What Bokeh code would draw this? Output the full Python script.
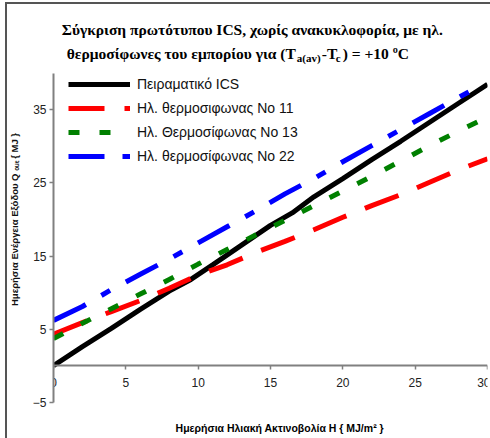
from bokeh.plotting import figure
from bokeh.models import Range1d, FixedTicker, Label, Legend, LegendItem
from bokeh.embed import file_html
from bokeh.resources import INLINE

# ---- data ----
h_ics = [0, 2, 4, 6, 8, 9.5, 11, 13, 15, 16.5, 18, 20, 22, 24, 26, 28, 30]
q_ics = [0, 2.6, 5.1, 7.7, 10.2, 11.8, 13.8, 16.5, 19.2, 20.9, 23.1, 25.6, 28.2, 30.7, 33.3, 35.9, 38.5]

h_11 = [0, 2, 4, 6, 8, 10, 12, 14, 16, 18, 20, 22, 24, 26, 28, 30]
q_11 = [4.3, 5.9, 7.4, 8.9, 10.6, 12.4, 13.8, 15.5, 17.0, 18.6, 20.3, 21.9, 23.4, 25.1, 26.8, 28.3]

h_13 = [0, 2, 4, 6, 8, 10, 12, 14, 16, 18, 20, 22, 24, 26, 28, 30]
q_13 = [3.7, 5.8, 7.8, 9.8, 11.8, 13.9, 15.9, 17.9, 19.9, 21.9, 23.9, 25.9, 28.0, 30.1, 32.1, 34.0]

h_22 = [0, 2, 4, 6, 8, 10, 12, 14, 16, 18, 20, 22, 24, 26, 28, 29.5]
q_22 = [6.2, 8.1, 10.4, 12.5, 14.6, 16.8, 19.0, 21.2, 23.5, 25.6, 27.9, 30.1, 32.3, 34.5, 36.7, 38.3]

x_ticks = [0, 5, 10, 15, 20, 25, 30]
y_ticks = [-5, 5, 15, 25, 35]

series_names = ["Πειραματικό ICS", "Ηλ. θερμοσιφωνας No 11",
                "Ηλ. Θερμοσίφωνας No 13", "Ηλ. θερμοσίφωνας No 22"]

title_1 = "Σύγκριση πρωτότυπου ICS, χωρίς ανακυκλοφορία, με ηλ."
title_2a = "θερμοσίφωνες του εμπορίου για (T"
title_2b = "a(av)"
title_2c = "-T"
title_2d = "c"
title_2e = ") = +10 ºC"
x_label = "Ημερήσια Ηλιακή Ακτινοβολία Η { MJ/m² }"
y_label = "Ημερήσια Ενέργεια Εξόδου Q ₒᵤₜ { MJ }"

# ---- figure: frame covers the full height so that titles can live inside it ----
W, H = 490, 438
PX_PER_Y = 7.31
Y_TOP = 40 + 72.8 / PX_PER_Y
Y_BOT = Y_TOP - H / PX_PER_Y
p = figure(width=W, height=H, output_backend="svg", toolbar_location=None, title=None,
           x_range=Range1d(0, 30), y_range=Range1d(Y_BOT, Y_TOP),
           min_border_left=53, min_border_right=3, min_border_top=0, min_border_bottom=0)
p.outline_line_color = None
p.grid.visible = False
p.background_fill_color = None
p.border_fill_color = None
# chart-area frame of the original (dark line on the left and top edges)
p.styles = {"background": "linear-gradient(#555555, #555555) 5px 2px / 2px 100% no-repeat, "
                          "linear-gradient(#555555, #555555) 5px 2px / 100% 2px no-repeat, white"}

axis_col = "#808080"
p.xaxis.fixed_location = 0
p.xaxis.bounds = (0, 30)
p.yaxis.bounds = (-5, 40)
p.xaxis.ticker = FixedTicker(ticks=x_ticks)
p.yaxis.ticker = FixedTicker(ticks=y_ticks)
for ax in (p.xaxis, p.yaxis):
    ax.axis_line_color = axis_col
    ax.axis_line_width = 2
    ax.major_tick_line_color = axis_col
    ax.major_tick_line_width = 1.5
    ax.major_tick_in = 0
    ax.major_tick_out = 4
    ax.minor_tick_line_color = None
    ax.major_label_text_font = "Liberation Sans"
    ax.major_label_text_font_size = "12px"
    ax.major_label_text_color = "#222222"
p.xaxis.major_label_standoff = 8
p.yaxis.major_label_standoff = 3
p.yaxis.axis_label = y_label
p.yaxis.axis_label_text_font = "Liberation Sans"
p.yaxis.axis_label_text_font_size = "9.5px"
p.yaxis.axis_label_text_font_style = "bold"
p.yaxis.axis_label_text_color = "#111111"
p.yaxis.axis_label_standoff = 10

r_ics = p.line(h_ics, q_ics, line_color="black", line_width=5)
r_11 = p.line(h_11, q_11, line_color="#ff0000", line_width=5, line_dash="36 20")
r_13 = p.line(h_13, q_13, line_color="#008000", line_width=5, line_dash="11 20")
r_22 = p.line(h_22, q_22, line_color="#0000ff", line_width=5, line_dash="36 18 10 18")

legend = Legend(items=[LegendItem(label=n, renderers=[r]) for n, r in
                       zip(series_names, [r_ics, r_11, r_13, r_22])],
                location=(15, H - 168), margin=0, padding=0, spacing=0,
                glyph_width=62, glyph_height=24, label_height=24, label_standoff=7,
                border_line_color=None, background_fill_alpha=0,
                label_text_font="Liberation Sans", label_text_font_size="14px",
                label_text_color="#111111")
p.add_layout(legend)

# page-pixel -> data helpers for placing the text annotations inside the frame
def dx(px):
    return (px - 52.7) / 14.467

def dy(py):
    return Y_TOP - py / PX_PER_Y

def lab(text, px, py, size, align="left", bold=True, font="Liberation Serif"):
    p.add_layout(Label(x=dx(px), y=dy(py), text=text, text_align=align,
                       text_baseline="alphabetic", text_font=font,
                       text_font_size=size, text_font_style="bold" if bold else "normal",
                       text_color="black"))

lab(title_1, 251.5, 29.3, "15.5px", align="center")
lab(title_2a, 295, 53.3, "15.5px", align="right")
lab(title_2b, 296, 57, "11px")
lab(title_2c, 321, 53.3, "15.5px")
lab(title_2d, 335, 57, "11px")
lab(title_2e, 342, 53.3, "15.5px")
lab(x_label, 279, 427, "10.5px", align="center", font="Liberation Sans")

open("out.html", "w").write(file_html(p, INLINE))
